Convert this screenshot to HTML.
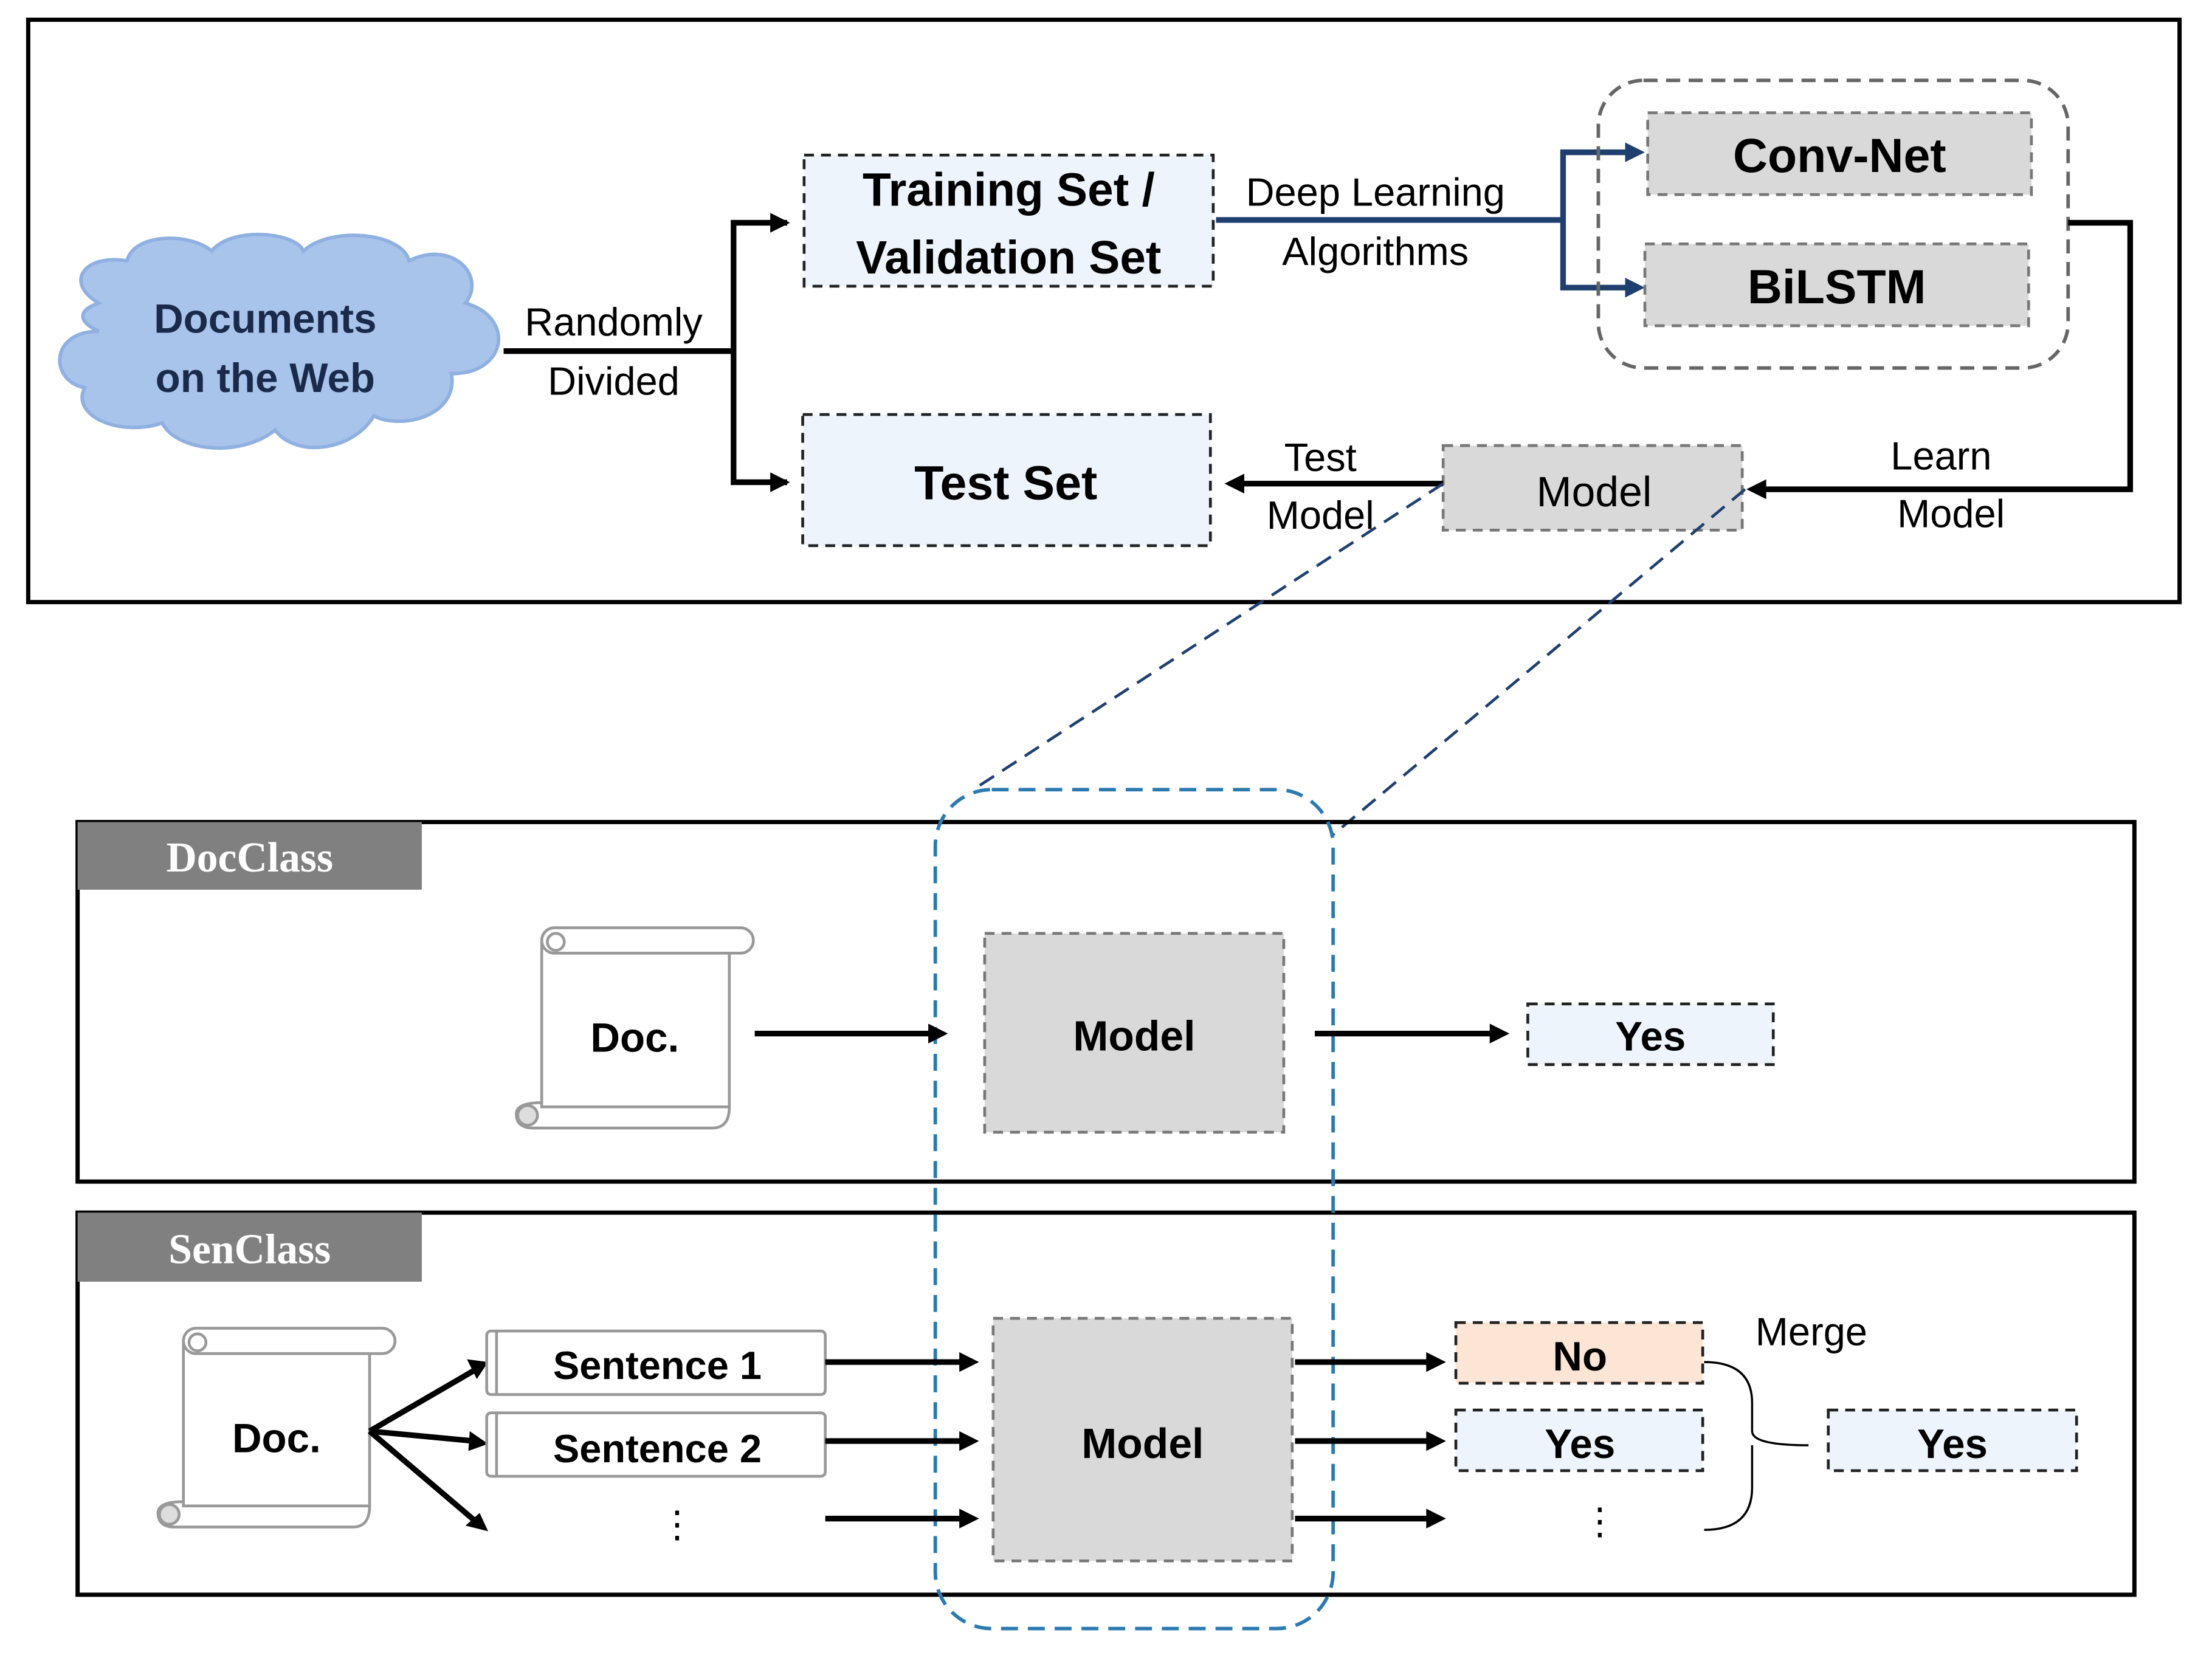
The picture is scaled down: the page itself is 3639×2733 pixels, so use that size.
<!DOCTYPE html>
<html><head><meta charset="utf-8"><style>
html,body{margin:0;padding:0;background:#fff;}
svg{display:block;}
text{font-family:"Liberation Sans",sans-serif;}
</style></head><body>
<svg width="3639" height="2733" viewBox="0 0 1568 1178" preserveAspectRatio="none" xmlns="http://www.w3.org/2000/svg">
<rect width="1600" height="1200" fill="#fff"/>
<rect x="20" y="14" width="1525" height="413" fill="none" stroke="#000" stroke-width="3"/>
<path d="M70,215 C45,200 60,180 90,185 C95,165 135,165 150,178 C165,160 210,165 215,178 C235,160 285,165 290,185 C320,170 345,195 330,215 C365,225 360,265 320,265 C325,295 285,305 265,295 C250,320 210,325 195,305 C170,325 125,320 115,300 C85,310 50,295 60,275 C35,270 35,235 70,235 C55,228 55,220 70,215 Z" fill="#a9c4eb" stroke="#8fb0e0" stroke-width="2.5"/>
<text x="188" y="236" font-size="29" font-weight="bold" fill="#1a2a4a" text-anchor="middle">Documents</text>
<text x="188" y="278" font-size="29" font-weight="bold" fill="#1a2a4a" text-anchor="middle">on the Web</text>
<polyline points="357,249 520,249" fill="none" stroke="#000" stroke-width="4"/>
<polyline points="558,158 520,158 520,342 558,342" fill="none" stroke="#000" stroke-width="4"/>
<path d="M546,151 L560,158 L546,165 z M546,335 L560,342 L546,349 z"/>
<text x="435" y="238" font-size="28" text-anchor="middle">Randomly</text>
<text x="435" y="280" font-size="28" text-anchor="middle">Divided</text>
<rect x="570" y="110" width="290" height="93" fill="#eef4fb" stroke="#222" stroke-width="2" stroke-dasharray="7,5"/>
<text x="715" y="146" font-size="33" font-weight="bold" text-anchor="middle">Training Set /</text>
<text x="715" y="194" font-size="33" font-weight="bold" text-anchor="middle">Validation Set</text>
<polyline points="862,156 1108,156" fill="none" stroke="#1f3f6e" stroke-width="4"/>
<polyline points="1160,108 1108,108 1108,204 1160,204" fill="none" stroke="#1f3f6e" stroke-width="4"/>
<path d="M1152,101 L1166,108 L1152,115 z M1152,197 L1166,204 L1152,211 z" fill="#1f3f6e"/>
<text x="975" y="146" font-size="28" text-anchor="middle">Deep Learning</text>
<text x="975" y="188" font-size="28" text-anchor="middle">Algorithms</text>
<rect x="1133" y="57" width="333" height="204" rx="32" fill="none" stroke="#666" stroke-width="2.5" stroke-dasharray="10,6"/>
<rect x="1168" y="80" width="272" height="58" fill="#d9d9d9" stroke="#777" stroke-width="2" stroke-dasharray="7,5"/>
<text x="1304" y="122" font-size="34" font-weight="bold" text-anchor="middle">Conv-Net</text>
<rect x="1166" y="173" width="272" height="58" fill="#d9d9d9" stroke="#777" stroke-width="2" stroke-dasharray="7,5"/>
<text x="1302" y="215" font-size="34" font-weight="bold" text-anchor="middle">BiLSTM</text>
<polyline points="1466,158 1510,158 1510,347 1250,347" fill="none" stroke="#000" stroke-width="4"/>
<path d="M1252,340 L1238,347 L1252,354 z"/>
<text x="1376" y="333" font-size="28" text-anchor="middle">Learn</text>
<text x="1383" y="374" font-size="28" text-anchor="middle">Model</text>
<rect x="1023" y="316" width="212" height="60" fill="#d9d9d9" stroke="#777" stroke-width="2" stroke-dasharray="7,5"/>
<text x="1130" y="359" font-size="30" text-anchor="middle">Model</text>
<line x1="1023" y1="343" x2="880" y2="343" stroke="#000" stroke-width="4"/>
<path d="M882,336 L868,343 L882,350 z"/>
<text x="936" y="334" font-size="28" text-anchor="middle">Test</text>
<text x="936" y="375" font-size="28" text-anchor="middle">Model</text>
<rect x="569" y="294" width="289" height="93" fill="#eef4fb" stroke="#222" stroke-width="2" stroke-dasharray="7,5"/>
<text x="713" y="354" font-size="34" font-weight="bold" text-anchor="middle">Test Set</text>
<line x1="1023" y1="343" x2="693" y2="558" stroke="#1f3f6e" stroke-width="2" stroke-dasharray="12,7"/>
<line x1="1237" y1="347" x2="945" y2="592" stroke="#1f3f6e" stroke-width="2" stroke-dasharray="12,7"/>
<rect x="55" y="583" width="1458" height="255" fill="none" stroke="#000" stroke-width="3"/>
<rect x="55" y="583" width="244" height="48" fill="#808080"/>
<text x="177" y="618" font-size="30" font-weight="bold" fill="#fff" text-anchor="middle" style="font-family:'Liberation Serif',serif">DocClass</text>
<rect x="55" y="860" width="1458" height="271" fill="none" stroke="#000" stroke-width="3"/>
<rect x="55" y="860" width="244" height="49" fill="#808080"/>
<text x="177" y="896" font-size="30" font-weight="bold" fill="#fff" text-anchor="middle" style="font-family:'Liberation Serif',serif">SenClass</text>
<rect x="663" y="560" width="282" height="595" rx="40" fill="none" stroke="#2a7ab0" stroke-width="2.5" stroke-dasharray="12,7"/>
<g fill="#fff" stroke="#999" stroke-width="2">
<path d="M384,668 L384,785 L517,785 Q517,800 505,800 L378,800 Q366,800 366,790 Q366,782 384,782 M517,676 L517,786"/>
<rect x="384" y="658" width="150" height="18" rx="9"/>
<circle cx="394" cy="668" r="6"/>
<circle cx="374" cy="791" r="7" fill="#ddd"/>
</g>
<text x="450" y="746" font-size="29" font-weight="bold" text-anchor="middle">Doc.</text>
<line x1="535" y1="733" x2="660" y2="733" stroke="#000" stroke-width="4"/>
<path d="M658,726 L672,733 L658,740 z"/>
<rect x="698" y="662" width="212" height="141" fill="#d9d9d9" stroke="#777" stroke-width="2" stroke-dasharray="7,5"/>
<text x="804" y="745" font-size="30" font-weight="bold" text-anchor="middle">Model</text>
<line x1="932" y1="733" x2="1058" y2="733" stroke="#000" stroke-width="4"/>
<path d="M1056,726 L1070,733 L1056,740 z"/>
<rect x="1083" y="712" width="174" height="43" fill="#eef4fb" stroke="#222" stroke-width="2" stroke-dasharray="7,5"/>
<text x="1170" y="745" font-size="29" font-weight="bold" text-anchor="middle">Yes</text>
<g fill="#fff" stroke="#999" stroke-width="2">
<path d="M130,952 L130,1068 L262,1068 Q262,1083 250,1083 L124,1083 Q112,1083 112,1073 Q112,1065 130,1065 M262,960 L262,1070"/>
<rect x="130" y="942" width="150" height="18" rx="9"/>
<circle cx="140" cy="952" r="6"/>
<circle cx="120" cy="1074" r="7" fill="#ddd"/>
</g>
<text x="196" y="1030" font-size="29" font-weight="bold" text-anchor="middle">Doc.</text>
<g stroke="#000" stroke-width="4">
<line x1="262" y1="1015" x2="336" y2="972"/>
<line x1="262" y1="1015" x2="336" y2="1022"/>
<line x1="262" y1="1015" x2="336" y2="1078"/>
</g>
<path d="M331,964 L346,966 L338,978 z M333,1015 L346,1024 L332,1029 z M330,1082 L346,1086 L340,1073 z"/>
<g fill="#fff" stroke="#999" stroke-width="2">
<rect x="345" y="944" width="240" height="45" rx="3"/>
<line x1="352" y1="944" x2="352" y2="989"/>
<rect x="345" y="1002" width="240" height="45" rx="3"/>
<line x1="352" y1="1002" x2="352" y2="1047"/>
</g>
<text x="466" y="978" font-size="28" font-weight="bold" text-anchor="middle">Sentence 1</text>
<text x="466" y="1037" font-size="28" font-weight="bold" text-anchor="middle">Sentence 2</text>
<text x="480" y="1090" font-size="26" text-anchor="middle">⋮</text>
<g stroke="#000" stroke-width="4">
<line x1="585" y1="966" x2="682" y2="966"/>
<line x1="585" y1="1022" x2="682" y2="1022"/>
<line x1="585" y1="1077" x2="682" y2="1077"/>
<line x1="918" y1="966" x2="1013" y2="966"/>
<line x1="918" y1="1022" x2="1013" y2="1022"/>
<line x1="918" y1="1077" x2="1013" y2="1077"/>
</g>
<path d="M680,959 L694,966 L680,973 z M680,1015 L694,1022 L680,1029 z M680,1070 L694,1077 L680,1084 z M1011,959 L1025,966 L1011,973 z M1011,1015 L1025,1022 L1011,1029 z M1011,1070 L1025,1077 L1011,1084 z"/>
<rect x="704" y="935" width="212" height="172" fill="#d9d9d9" stroke="#777" stroke-width="2" stroke-dasharray="7,5"/>
<text x="810" y="1034" font-size="30" font-weight="bold" text-anchor="middle">Model</text>
<rect x="1032" y="938" width="175" height="43" fill="#fde5d5" stroke="#222" stroke-width="2" stroke-dasharray="7,5"/>
<text x="1120" y="972" font-size="29" font-weight="bold" text-anchor="middle">No</text>
<rect x="1032" y="1000" width="175" height="43" fill="#eef4fb" stroke="#222" stroke-width="2" stroke-dasharray="7,5"/>
<text x="1120" y="1034" font-size="29" font-weight="bold" text-anchor="middle">Yes</text>
<text x="1134" y="1088" font-size="26" text-anchor="middle">⋮</text>
<path d="M1208,966 Q1242,966 1242,995 L1242,1015 Q1242,1025 1282,1025 M1242,1025 Q1242,1035 1242,1055 Q1242,1085 1208,1085" fill="none" stroke="#000" stroke-width="1.5"/>
<text x="1284" y="954" font-size="28" text-anchor="middle">Merge</text>
<rect x="1296" y="1000" width="176" height="43" fill="#eef4fb" stroke="#222" stroke-width="2" stroke-dasharray="7,5"/>
<text x="1384" y="1034" font-size="29" font-weight="bold" text-anchor="middle">Yes</text>
</svg>
</body></html>
